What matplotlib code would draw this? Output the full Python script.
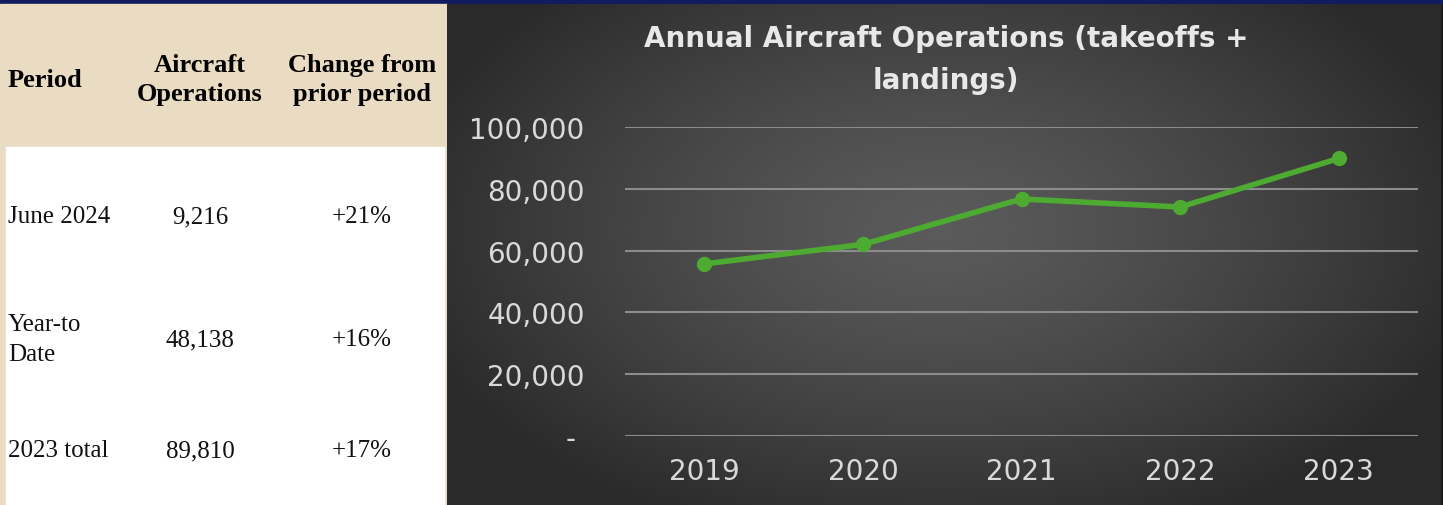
import numpy as np
import matplotlib
matplotlib.use('Agg')
from matplotlib import pyplot as plt
from matplotlib.patches import Rectangle
from matplotlib.ticker import FuncFormatter

# table data
periods = ['June 2024', 'Year-to\nDate', '2023 total']
operations = ['9,216', '48,138', '89,810']
changes = ['+21%', '+16%', '+17%']
headers = ['Period', 'Aircraft\nOperations', 'Change from\nprior period']

# chart data
years = ['2019', '2020', '2021', '2022', '2023']
annual_ops = [55700, 62000, 76700, 74100, 89810]

W, H = 1443, 506
fig = plt.figure(figsize=(W / 100, H / 100), dpi=100)

# background in pixel coordinates
bg = fig.add_axes([0, 0, 1, 1])
bg.set_xlim(0, W)
bg.set_ylim(H, 0)
bg.axis('off')
bg.add_patch(Rectangle((0, 0), W, H, color='#1a1a1a'))
bg.add_patch(Rectangle((0, 0), W, 3.5, color='#101c5e'))
bg.add_patch(Rectangle((0, 5), 447, H - 5, color='#e9dcc2'))
bg.add_patch(Rectangle((6, 148), 438, H - 148, color='white'))

# radial gradient for the chart panel
px0, px1, py0, py1 = 447, 1441, 5, H
gx, gy = np.meshgrid(np.linspace(px0, px1, 400), np.linspace(py0, py1, 200))
r = np.sqrt(((gx - 940) / 560) ** 2 + ((gy - 230) / 330) ** 2)
r = np.clip(r, 0, 1)
shade = 0.355 - 0.19 * r ** 1.3
img = np.dstack([shade, shade, shade])
bg.imshow(img, extent=(px0, px1, py1, py0), aspect='auto', zorder=1)

# table text
serif = 'Liberation Serif'
col_x = [8, 200, 362]
bg.text(col_x[0], 80, headers[0], ha='left', va='center', fontsize=19,
        fontweight='bold', family=serif, color='black', zorder=3)
for i in (1, 2):
    bg.text(col_x[i], 80, headers[i], ha='center', va='center', fontsize=19,
            fontweight='bold', family=serif, color='black', linespacing=1.3, zorder=3)
row_y = [217, 340, 451]
for y, p, o, c in zip(row_y, periods, operations, changes):
    bg.text(col_x[0], y, p, ha='left', va='center', fontsize=18, family=serif,
            color='#111111', linespacing=1.42, zorder=3)
    bg.text(col_x[1], y, o, ha='center', va='center', fontsize=18, family=serif,
            color='#111111', zorder=3)
    bg.text(col_x[2], y, c, ha='center', va='center', fontsize=18, family=serif,
            color='#111111', zorder=3)

# chart title
bg.text(946, 60, 'Annual Aircraft Operations (takeoffs +\nlandings)', ha='center',
        va='center', fontsize=20, fontweight='bold', color='#e8e8e8',
        linespacing=1.65, zorder=3)

# line chart
ax = fig.add_axes([625 / W, (H - 437) / H, 793 / W, 309 / H])
ax.patch.set_alpha(0)
x = np.arange(len(years))
ax.plot(x, annual_ops, color='#4eab32', linewidth=4, marker='o', markersize=10,
        solid_capstyle='round', zorder=3)
ax.set_xlim(-0.5, len(years) - 0.5)
ax.set_ylim(0, 100000)
ax.set_yticks([0, 20000, 40000, 60000, 80000, 100000])
ax.yaxis.set_major_formatter(FuncFormatter(lambda v, p: '- ' if v == 0 else f'{int(v):,}'))
ax.set_xticks(x)
ax.set_xticklabels(years)
ax.grid(axis='y', color='#8c8c8c', linewidth=1.5)
ax.set_axisbelow(True)
for s in ax.spines.values():
    s.set_visible(False)
ax.tick_params(axis='both', length=0, colors='#d9d9d9', labelsize=20)
ax.tick_params(axis='y', pad=29)
ax.tick_params(axis='x', pad=15)

fig.savefig('out.png', dpi=100)
